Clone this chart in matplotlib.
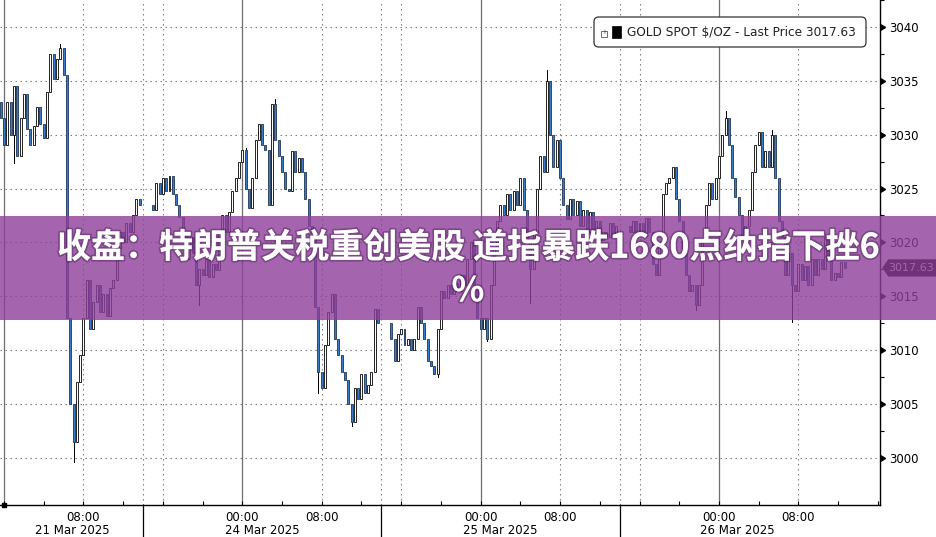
import numpy as np
import matplotlib.pyplot as plt
import matplotlib.patheffects as pe
from matplotlib.patches import Rectangle, Polygon, FancyBboxPatch
from matplotlib.transforms import blended_transform_factory

# --- data: gold spot, 20-minute candles (hours on a gap-free axis, 0 = 21 Mar 00:00) ---
seg_starts = [-1 / 3, 15, 39, 63]
first_open = 3033.0

seg1_close = [3031.5,
              3029, 3033, 3030, 3034.5, 3028, 3031.5, 3033.8, 3030.5, 3029,
              3030.8, 3032.6, 3031, 3029.7, 3034, 3037.5, 3035.2, 3037, 3038,
              3035.5, 3013, 3005, 3001.5, 3007, 3009.5, 3013, 3016.5, 3012,
              3014.5, 3016, 3013.5, 3015.2, 3013.2, 3015.8, 3016.5, 3019.5, 3021,
              3020, 3021.8, 3021, 3022.5, 3024, 3023.5]
seg2_close = [3023, 3025.5, 3024.5, 3026, 3024.8, 3026.2, 3024.5, 3023.5, 3022.4,
              3021, 3018.5, 3020.5, 3019, 3016, 3017.5, 3017, 3018.5, 3016.8,
              3018, 3017.4, 3021, 3022.5, 3021, 3022.8, 3024.8, 3026, 3027.5,
              3028.6, 3025, 3023.2, 3026, 3029.5, 3031, 3029, 3028.6, 3023.5,
              3032.8, 3029.5, 3028, 3026.5, 3025, 3024.8, 3028.5, 3026.5, 3027.8,
              3026.5, 3024, 3021.5, 3021, 3014, 3008, 3006.5, 3010.5, 3013.5,
              3015.2, 3011, 3009.5, 3008, 3007.2, 3005, 3003.3, 3006.5, 3005.5,
              3007.8, 3006, 3006.8, 3008, 3013.8, 3012.5]
seg3_close = [3011, 3009, 3011.5, 3012, 3010.5, 3011, 3010, 3011, 3014,
              3012.5, 3011, 3009, 3008.5, 3007.8, 3012, 3015.5, 3014.8, 3016,
              3015.2, 3016.2, 3015.5, 3017, 3016, 3018.5, 3020, 3016, 3013,
              3012, 3013, 3011, 3016, 3019.5, 3022, 3023.5, 3022.5, 3024.5,
              3023, 3024.8, 3023.5, 3026, 3023, 3020, 3017.5, 3021, 3025,
              3028, 3026.5, 3035, 3030, 3027, 3029.5, 3026, 3023.5, 3022.2,
              3024, 3022.5, 3023.8, 3021.5, 3023, 3021, 3022.8, 3021.2, 3022,
              3020.2, 3021, 3020.5, 3021.8, 3020.6, 3021.5]
seg4_close = [3021, 3022, 3020.8, 3021.8, 3020.6, 3022.3, 3021, 3018, 3017,
              3020, 3024.5, 3025.5, 3026, 3027, 3024, 3022, 3019, 3017,
              3015.5, 3016, 3014.2, 3016, 3020, 3023.5, 3025.5, 3024, 3026,
              3028, 3030, 3031.5, 3029, 3026, 3024.2, 3022.5, 3020.5, 3021.5,
              3023, 3026.5, 3029, 3030.2, 3027, 3028.5, 3027, 3030, 3026,
              3022, 3020.5, 3017, 3019, 3016, 3015.5, 3018, 3016.5, 3017.8,
              3016, 3018.5, 3017, 3018.5, 3017.5, 3020.5, 3018.5, 3016.5, 3017.2,
              3016.8, 3018.2, 3017.63]

# long wicks (bar hour, extreme price)
wick_t = [1.0, 5.67, 7.0, 19.67, 24.33, 27.33, 31.67, 35.0, 43.67, 48.67,
          53.0, 54.67, 69.67, 72.67, 77.33, 79.33]
wick_v = [3027.4, 3038.4, 2999.6, 3014.2, 3028.8, 3033.3, 3006.0, 3003.0, 3007.5,
          3010.8, 3014.4, 3036.0, 3013.7, 3032.2, 3030.4, 3012.6]

last_price = 3017.63
y_ticks = [3000, 3005, 3010, 3015, 3020, 3025, 3030, 3035, 3040]
x_label_hours = [8, 24, 32, 48, 56, 72, 80]
x_labels = ['08:00', '00:00', '08:00', '00:00', '08:00', '00:00', '08:00']
date_labels = ['21 Mar 2025', '24 Mar 2025', '25 Mar 2025', '26 Mar 2025']
date_label_px = [72, 262, 500, 737]
title = '收盘：特朗普关税重创美股 道指暴跌1680点纳指下挫6\n%'
legend_text = 'GOLD SPOT $/OZ - Last Price 3017.63'

W, H = 937, 537


def fxy(x, y):
    # pixel (from top-left) -> figure fraction
    return x / W, 1 - y / H


# --- build candles ---
times, opens, closes = [], [], []
prev = first_open
for start, seg in zip(seg_starts, [seg1_close, seg2_close, seg3_close, seg4_close]):
    for i, c in enumerate(seg):
        times.append(start + i / 3)
        opens.append(prev)
        closes.append(c)
        prev = c
times = np.array(times)
opens = np.array(opens)
closes = np.array(closes)

fig = plt.figure(figsize=(W / 100, H / 100), dpi=100)
ax = fig.add_axes([0, 32 / H, 880.5 / W, 505 / H])
ax.set_xlim(-0.403, 88.27)
ax.set_ylim(2995.62, 3042.0)

# grid
for y in y_ticks:
    ax.axhline(y, color='#7a7a7a', lw=0.8, ls=(0, (1.3, 3.2)), zorder=0)
for h in [8, 14, 16, 32, 38, 40, 56, 62, 64, 80]:
    ax.axvline(h, color='#7a7a7a', lw=0.8, ls=(0, (1.3, 3.2)), zorder=0)
for h in [0, 24, 48, 72]:
    ax.axvline(h, color='#6e6e6e', lw=0.9, zorder=0)

# wicks
for t, v in zip(wick_t, wick_v):
    i = int(np.argmin(np.abs(times - t)))
    body = max(opens[i], closes[i]) if v > closes[i] else min(opens[i], closes[i])
    ax.plot([times[i], times[i]], [body, v], color='black', lw=0.7, zorder=2)

# bodies
up = closes >= opens
fills = np.where(up, 'white', '#3b7bc6')
edges = np.where(up, 'black', '#1c3557')
bottom = np.minimum(opens, closes)
height = np.abs(closes - opens)
ax.bar(times, height, bottom=bottom, width=0.2, color=fills, edgecolor=edges,
       linewidth=0.6, zorder=3)

# spines and axes
for s in ['top', 'left']:
    ax.spines[s].set_visible(False)
ax.spines['right'].set_linewidth(1.0)
ax.spines['bottom'].set_linewidth(1.0)

ax.yaxis.tick_right()
ax.set_yticks(y_ticks)
ax.set_yticks([y + 2.5 for y in y_ticks], minor=True)
ax.tick_params(axis='y', which='major', length=0, pad=6, labelsize=8.5)
ax.tick_params(axis='y', which='minor', length=3, direction='out', width=0.8)
trans_ay = blended_transform_factory(ax.transAxes, ax.transData)
ax.plot([1.0] * len(y_ticks), y_ticks, transform=trans_ay, marker=9, ms=5,
        color='black', ls='none', clip_on=False, zorder=5)

ax.set_xticks(np.arange(0, 89, 4))
lab = ['' for _ in np.arange(0, 89, 4)]
for h, l in zip(x_label_hours, x_labels):
    lab[h // 4] = l
ax.set_xticklabels(lab)
ax.tick_params(axis='x', direction='in', length=3, width=0.8, pad=4, labelsize=8.5)
ax.plot([0], [0], transform=blended_transform_factory(ax.transData, ax.transAxes),
        marker='s', ms=2.5, color='black', clip_on=False)

trans_xa = blended_transform_factory(ax.transData, ax.transAxes)
for h in [14, 38, 62]:
    ax.plot([h, h], [0, -32 / 505], transform=trans_xa, color='black', lw=0.9,
            clip_on=False)

for lbl, px in zip(date_labels, date_label_px):
    x, y = fxy(px, 530)
    fig.text(x, y, lbl, ha='center', va='center', fontsize=8.5)

# last price tag
dy = 0.8
tip = 1.002
tag = Polygon([(tip, last_price), (tip + 6 / 880.5, last_price + dy),
               (1.07, last_price + dy), (1.07, last_price - dy),
               (tip + 6 / 880.5, last_price - dy)], closed=True,
              transform=trans_ay, facecolor='black', edgecolor='none',
              clip_on=False, zorder=6)
ax.add_patch(tag)
ax.text(911 / 880.5, last_price, f'{last_price:.2f}', transform=trans_ay,
        ha='center', va='center', color='white', fontsize=8, clip_on=False, zorder=7)

# legend box
x0, y0 = fxy(594, 47)
x1, y1 = fxy(866, 17)
fig.add_artist(FancyBboxPatch((x0, y0), x1 - x0, y1 - y0,
                              boxstyle='round,pad=0,rounding_size=0.005',
                              mutation_aspect=W / H, transform=fig.transFigure,
                              facecolor='white', edgecolor='#333333', lw=0.9, zorder=4))
bx, by = fxy(601, 37)
fig.add_artist(Rectangle((bx, by), 6 / W, 6 / H, transform=fig.transFigure,
                         facecolor='white', edgecolor='#555555', lw=0.6, zorder=5))
cx, cy = fxy(604, 32)
fig.text(cx, cy, '+', ha='center', va='center', fontsize=5, color='#555555', zorder=6)
sx, sy = fxy(612, 38)
fig.add_artist(Rectangle((sx, sy), 9 / W, 12 / H, transform=fig.transFigure,
                         facecolor='black', edgecolor='black', lw=0.5, zorder=5))
tx, ty = fxy(627, 32)
fig.text(tx, ty, legend_text, ha='left', va='center', fontsize=8.7,
         family='DejaVu Sans', color='#222222', zorder=6)

# purple headline banner
bx0, by0 = fxy(0, 320)
fig.add_artist(Rectangle((bx0, by0), 1, 104 / H, transform=fig.transFigure,
                         facecolor='#8e3f9a', alpha=0.8, lw=0, zorder=8))
hx, hy = fxy(468, 269)
fig.text(hx, hy, title, ha='center', va='center', multialignment='center',
         color='white', fontsize=24.5, fontweight='heavy', linespacing=1.3,
         family=['Noto Sans CJK SC', 'DejaVu Sans'], zorder=9,
         path_effects=[pe.withStroke(linewidth=2.5, foreground=(0.2, 0.05, 0.25, 0.35))])

fig.savefig('out.png', dpi=100)
